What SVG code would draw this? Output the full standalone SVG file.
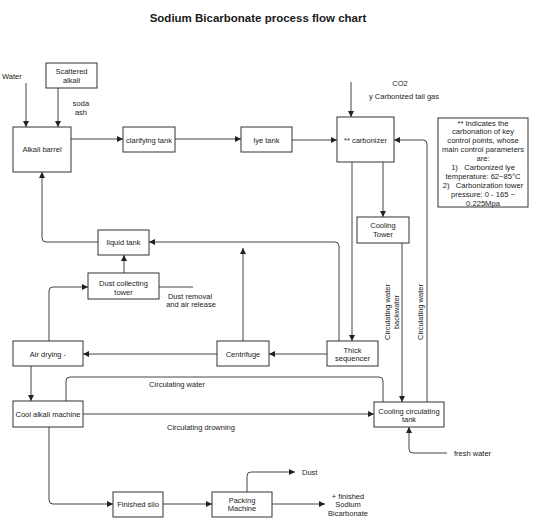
<svg xmlns="http://www.w3.org/2000/svg" width="539" height="523" viewBox="0 0 539 523">
<defs>
<marker id="ah" markerUnits="userSpaceOnUse" markerWidth="7" markerHeight="6" refX="6" refY="3" orient="auto">
<path d="M0,0 L6,3 L0,6 z" fill="#222"/>
</marker>
<style>
rect{fill:#fff;stroke:#333;stroke-width:1}
text{font-family:"Liberation Sans",Arial,sans-serif;font-size:7.5px;fill:#222}
.c{text-anchor:middle}
.t{font-size:11.5px;font-weight:bold;fill:#1a1a1a}
.n text{font-size:7.6px}
#connectors path{fill:none;stroke:#444;stroke-width:1}
#connectors .a{marker-end:url(#ah)}
</style>
</defs>
<rect x="0" y="0" width="539" height="523" style="fill:#fff;stroke:none"/>
<text class="t c" x="258" y="22">Sodium Bicarbonate process flow chart</text>

<g id="connectors">
<path class="a" d="M26,83 V127"/>
<path class="a" d="M58,88 V127"/>
<path class="a" d="M71,139 H123"/>
<path class="a" d="M175,139 H241"/>
<path class="a" d="M292,140 H337"/>
<path class="a" d="M351,82 V117"/>
<path class="a" d="M383,162 V217"/>
<path class="a" d="M352,162 V341"/>
<path class="a" d="M427,402 V144 Q427,140 423,140 H394"/>
<path class="a" d="M402,243 V402"/>
<path class="a" d="M339,341 V246 Q339,242 335,242 H149"/>
<path class="a" d="M98,242 H46 Q42,242 42,238 V172"/>
<path class="a" d="M243,341 V248"/>
<path class="a" d="M327,354 H269"/>
<path class="a" d="M217,354 H83"/>
<path class="a" d="M49,341 V291 Q49,287 53,287 H88"/>
<path class="a" d="M124,273 V255"/>
<path d="M159,287 H193"/>
<path class="a" d="M31,366 V401"/>
<path d="M66,401 V381 Q66,377 70,377 H379 Q383,377 383,381 V402"/>
<path class="a" d="M83,414 H374"/>
<path class="a" d="M447,453 H413 Q409,453 409,449 V427"/>
<path class="a" d="M49,427 V500 Q49,504 53,504 H113"/>
<path class="a" d="M163,504 H212"/>
<path class="a" d="M247,492 V476 Q247,472 251,472 H295"/>
<path class="a" d="M272,504 H325"/>
</g>

<g id="labels">
<text x="2" y="79">Water</text>
<text class="c" x="81" y="105.5">soda</text>
<text class="c" x="81" y="114.5">ash</text>
<text class="c" x="400" y="85.5">CO2</text>
<text class="c" x="404" y="98.5">y Carbonized tail gas</text>
<text class="c" x="190" y="298.5">Dust removal</text>
<text class="c" x="191" y="306.5">and air release</text>
<text class="c" x="177" y="386.5">Circulating water</text>
<text class="c" x="201" y="429.5">Circulating drowning</text>
<text x="454" y="455.5">fresh water</text>
<text x="302" y="474.5">Dust</text>
<text class="c" x="348" y="498.5">+ finished</text>
<text class="c" x="348" y="506.5">Sodium</text>
<text class="c" x="348" y="515.5">Bicarbonate</text>
<text class="c" transform="translate(423,312) rotate(-90)">Circulating water</text>
<text class="c" transform="translate(390,312) rotate(-90)">Circulating water</text>
<text class="c" transform="translate(399,312) rotate(-90)">backwater</text>
</g>

<g id="scattered-alkali"><rect x="46" y="63" width="51" height="25"/><text class="c" x="71.5" y="73.5">Scattered</text><text class="c" x="71.5" y="82.5">alkali</text></g>
<g id="alkali-barrel"><rect x="13" y="127" width="58" height="45"/><text class="c" x="42" y="151.5">Alkali barrel</text></g>
<g id="clarifying-tank"><rect x="123" y="127" width="52" height="25"/><text class="c" x="149" y="142.5">clarifying tank</text></g>
<g id="lye-tank"><rect x="241" y="127" width="51" height="25"/><text class="c" x="266.5" y="142.5">lye tank</text></g>
<g id="carbonizer"><rect x="337" y="117" width="57" height="45"/><text class="c" x="365.5" y="142.5">** carbonizer</text></g>
<g id="note" class="n"><rect x="438" y="118" width="90" height="89"/>
<text class="c" x="483" y="125.5">** Indicates the</text>
<text class="c" x="483" y="134.4">carbonation of key</text>
<text class="c" x="483" y="143.3">control points, whose</text>
<text class="c" x="483" y="152.2">main control parameters</text>
<text class="c" x="483" y="161.1">are:</text>
<text class="c" x="483" y="170" xml:space="preserve">1)   Carbonized lye</text>
<text class="c" x="483" y="178.9">temperature: 62~85°C</text>
<text class="c" x="483" y="187.8" xml:space="preserve">2)   Carbonization tower</text>
<text class="c" x="483" y="196.7">pressure: 0 - 165 ~</text>
<text class="c" x="483" y="205.6">0.225Mpa</text>
</g>
<g id="cooling-tower"><rect x="357" y="217" width="52" height="26"/><text class="c" x="383" y="227.5">Cooling</text><text class="c" x="383" y="237">Tower</text></g>
<g id="liquid-tank"><rect x="98" y="230" width="51" height="25"/><text class="c" x="123.5" y="244.5">liquid tank</text></g>
<g id="dust-collecting-tower"><rect x="88" y="273" width="71" height="26"/><text class="c" x="123.5" y="285.5">Dust collecting</text><text class="c" x="123.5" y="294.5">tower</text></g>
<g id="air-drying"><rect x="13" y="341" width="70" height="25"/><text class="c" x="48" y="356.5">Air drying -</text></g>
<g id="centrifuge"><rect x="217" y="341" width="52" height="25"/><text class="c" x="243" y="356.5">Centrifuge</text></g>
<g id="thick-sequencer"><rect x="327" y="341" width="51" height="25"/><text class="c" x="352.5" y="352.5">Thick</text><text class="c" x="352.5" y="361">sequencer</text></g>
<g id="cool-alkali-machine"><rect x="13" y="401" width="70" height="26"/><text class="c" x="48" y="416.5">Cool alkali machine</text></g>
<g id="cooling-circulating-tank"><rect x="374" y="402" width="70" height="25"/><text class="c" x="409" y="413.5">Cooling circulating</text><text class="c" x="409" y="421.5">tank</text></g>
<g id="finished-silo"><rect x="113" y="492" width="50" height="25"/><text class="c" x="138" y="506.5">Finished silo</text></g>
<g id="packing-machine"><rect x="212" y="492" width="60" height="25"/><text class="c" x="242" y="502.5">Packing</text><text class="c" x="242" y="511">Machine</text></g>
</svg>
